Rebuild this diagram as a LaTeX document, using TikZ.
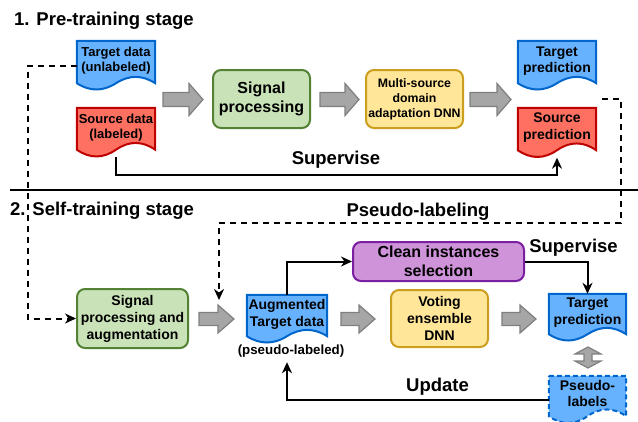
\documentclass[tikz,border=0pt]{standalone}
\usepackage{fontspec}
\setmainfont{Liberation Sans}
\usetikzlibrary{arrows.meta,calc,backgrounds}
\definecolor{blueF}{HTML}{66B2FF}
\definecolor{blueD}{HTML}{0066CC}
\definecolor{redF}{HTML}{FF7061}
\definecolor{redD}{HTML}{BF0000}
\definecolor{greenF}{HTML}{C9E2B8}
\definecolor{greenD}{HTML}{548235}
\definecolor{yellowF}{HTML}{FFE699}
\definecolor{yellowD}{HTML}{CC9E1E}
\definecolor{purpleF}{HTML}{CF93D9}
\definecolor{purpleD}{HTML}{7B1FA2}
\definecolor{grayF}{HTML}{A6A6A6}
\definecolor{grayD}{HTML}{7F7F7F}
% #1 node, #2 style, #3 wave size, #4 extra drop of the wave below the node
\newcommand{\docshape}[4]{%
 \begin{pgfonlayer}{background}
 \path[#2] let \p1=(#1.south west), \p2=(#1.south east), \p3=(#1.north east), \n1={(\x2-\x1)/6}, \n2={0.6*#3pt}, \n3={\y2-#4pt} in
  (\x1,\y3) -- (\x2,\y3) -- (\x2,\n3) .. controls (\x2-\n1,\n3+\n2) and ({(\x1+\x2)/2+\n1},\n3+\n2) .. ({(\x1+\x2)/2},\n3) .. controls ({(\x1+\x2)/2-\n1},\n3-\n2) and (\x1+\n1,\n3-\n2) .. (\x1,\n3) -- cycle;
 \end{pgfonlayer}}
\newcommand{\garr}[6]{\filldraw[garrow] (#1,{#3-#6}) -- ({#2-#4},{#3-#6}) -- ({#2-#4},{#3-#5}) -- (#2,#3) -- ({#2-#4},{#3+#5}) -- ({#2-#4},{#3+#6}) -- (#1,{#3+#6}) -- cycle;}
\tikzset{
 box/.style={draw, line width=2pt, rounded corners=8pt, align=center, inner sep=0pt, font=\bfseries},
 docn/.style={inner sep=0pt, align=center, font=\bfseries},
 conn/.style={line width=2pt, -{Stealth[length=11pt,width=10pt,inset=3.5pt]}},
 dline/.style={conn, dash pattern=on 6pt off 5pt},
 garrow/.style={fill=grayF, draw=grayD, line width=1.2pt},
 lab/.style={font=\bfseries\fontsize{18.5}{22}\selectfont, inner sep=0pt},
 blued/.style={fill=blueF, draw=blueD, line width=2pt},
 redd/.style={fill=redF, draw=redD, line width=2pt},
}
\begin{document}
\begin{tikzpicture}[x=1pt,y=-1pt]
\useasboundingbox (0,0) rectangle (638,421);
% titles
\node[lab, anchor=west] (t1) at (14,20.5) {1. Pre-training stage};
\node[lab, anchor=west] (t2) at (10,211) {2. Self-training stage};
\draw[line width=2.2pt] (10,190) -- (638,190);
% stage 1
\node[docn, minimum width=78pt, minimum height=40pt, font=\bfseries\fontsize{13}{15}\selectfont] (td) at (116,61) {Target data\\(unlabeled)};
\docshape{td}{blued}{14}{2}
\node[docn, minimum width=78pt, minimum height=39pt, font=\bfseries\fontsize{13}{15}\selectfont] (sd) at (116,127.5) {Source data\\(labeled)};
\docshape{sd}{redd}{15}{2.5}
\node[box, fill=greenF, draw=greenD, minimum width=97pt, minimum height=58pt, font=\bfseries\fontsize{16}{19}\selectfont] (sig) at (261.5,99) {Signal\\processing};
\node[box, fill=yellowF, draw=yellowD, minimum width=97pt, minimum height=58pt, font=\bfseries\fontsize{12.3}{15}\selectfont] (msda) at (414.5,99) {Multi-source\\domain\\adaptation DNN};
\node[docn, minimum width=78pt, minimum height=40pt, font=\bfseries\fontsize{14}{16}\selectfont] (tp) at (557,61) {Target\\prediction};
\docshape{tp}{blued}{14}{2}
\node[docn, minimum width=78pt, minimum height=40pt, font=\bfseries\fontsize{14}{17}\selectfont] (sp) at (557,128) {Source\\prediction};
\docshape{sp}{redd}{15}{2}
\garr{163}{203}{99.5}{14}{16}{7}
\garr{320}{359}{99.5}{14}{16}{7}
\garr{470}{511}{99.5}{14}{16}{7}
\coordinate (sdb) at ($(sd.south)+(0,10)$);
\coordinate (spb) at ($(sp.south)+(0,9.5)$);
\draw[conn] (sdb) -- ++(0,18) -| (spb);
\node[lab] (sup1) at (336,160) {Supervise};
% stage 2
\node[box, fill=greenF, draw=greenD, minimum width=111pt, minimum height=59pt, font=\bfseries\fontsize{14}{17}\selectfont] (spa) at (132.5,318.5) {Signal\\processing and\\augmentation};
\node[docn, minimum width=80pt, minimum height=38pt, font=\bfseries\fontsize{14}{17}\selectfont] (aug) at (287,314) {Augmented\\Target data};
\docshape{aug}{blued}{14}{3}
\node[inner sep=0pt, font=\bfseries\fontsize{13.3}{16}\selectfont] (plab) at (291,351) {(pseudo-labeled)};
\node[box, fill=purpleF, draw=purpleD, minimum width=171pt, minimum height=39pt, font=\bfseries\fontsize{16}{19}\selectfont] (clean) at (438.5,261.5) {Clean instances\\selection};
\node[box, fill=yellowF, draw=yellowD, minimum width=97pt, minimum height=57pt, font=\bfseries\fontsize{14}{17}\selectfont] (vote) at (439.5,318.5) {Voting\\ensemble\\DNN};
\node[docn, minimum width=77pt, minimum height=37pt, font=\bfseries\fontsize{14}{17}\selectfont] (tp2) at (587.5,312.5) {Target\\prediction};
\docshape{tp2}{blued}{14}{3}
\node[docn, minimum width=77pt, minimum height=34pt, font=\bfseries\fontsize{14}{16}\selectfont] (pl) at (587.5,393) {Pseudo-\\labels};
\docshape{pl}{blued, dash pattern=on 5pt off 3pt}{15}{6}
\garr{199}{234}{319}{16}{14}{6.5}
\garr{341}{375}{319}{16}{14}{6.5}
\garr{502}{536}{319}{16}{14}{6.5}
\filldraw[garrow] (588,347) -- (601,354) -- (592,354) -- (592,361) -- (601,361) -- (588,368) -- (575,361) -- (584,361) -- (584,354) -- (575,354) -- cycle;
% connectors
\coordinate (tdl) at ($(td.west)+(0,4.5)$);
\draw[dline] (tdl) -- ++(-49,0) |- (spa.west);
\coordinate (pl0) at (602,99);
\coordinate (augin) at (219,300);
\draw[dline] (pl0) -| (621,223) -| (augin);
\node[lab] (pslab) at (418,212) {Pseudo-labeling};
\draw[conn] (aug.north) |- (clean.west);
\draw[conn] (clean.east) -| (tp2.north);
\node[lab] (sup2) at (573.5,248) {Supervise};
\coordinate (plw) at ($(pl.west)+(0,7)$);
\coordinate (plabin) at ($(aug.south)+(0,29)$);
\draw[conn] (plw) -| (plabin);
\node[lab] (upd) at (437.5,387) {Update};
\end{tikzpicture}
\end{document}
